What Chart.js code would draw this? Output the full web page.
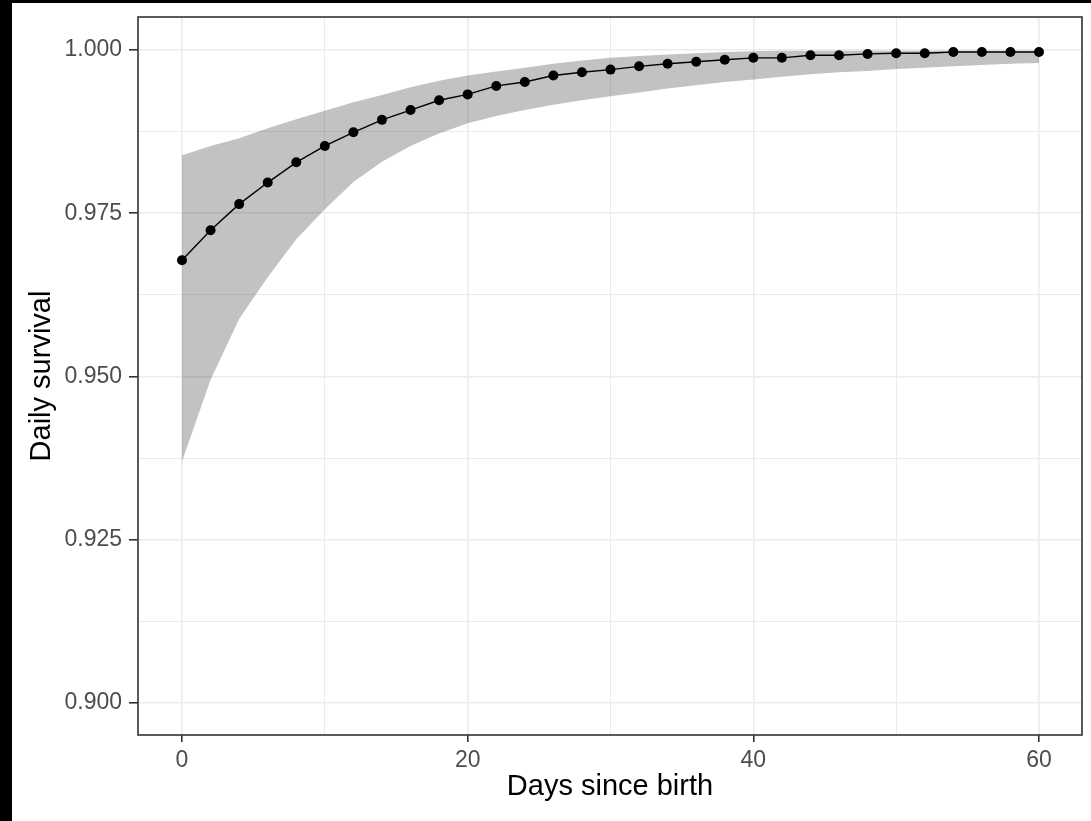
<!DOCTYPE html>
<html><head><meta charset="utf-8">
<script src="https://cdn.jsdelivr.net/npm/chart.js@4"></script>
<style>
html,body{margin:0;padding:0;background:#000;width:1091px;height:821px;overflow:hidden;}
#wrap{position:absolute;left:12px;top:3px;width:1079px;height:818px;background:#fff;}
canvas{display:block;}
</style></head><body>
<div id="wrap"><canvas id="c" width="1079" height="818"></canvas></div>
<script>
const days = [0,2,4,6,8,10,12,14,16,18,20,22,24,26,28,30,32,34,36,38,40,42,44,46,48,50,52,54,56,58,60];
const survival = [0.9678,0.9724,0.9764,0.9797,0.9828,0.9853,0.9874,0.9893,0.9908,0.9923,0.9932,0.9945,0.9951,0.9961,0.9966,0.9970,0.9975,0.9979,0.9982,0.9985,0.9988,0.9988,0.9992,0.9992,0.9994,0.9995,0.9995,0.9997,0.9997,0.9997,0.9997];
const lowerCI = [0.9370,0.9495,0.9588,0.9652,0.9710,0.9756,0.9798,0.9829,0.9853,0.9872,0.9888,0.9899,0.9908,0.9916,0.9923,0.9929,0.9935,0.9941,0.9946,0.9951,0.9955,0.9959,0.9963,0.9966,0.9968,0.9971,0.9973,0.9975,0.9977,0.9979,0.9980];
const upperCI = [0.9839,0.9853,0.9865,0.9880,0.9894,0.9907,0.9920,0.9931,0.9943,0.9953,0.9961,0.9967,0.9973,0.9979,0.9984,0.9988,0.9991,0.9993,0.9995,0.9997,0.9998,0.9999,0.9999,0.9999,0.9999,0.9999,0.9999,0.9999,0.9999,0.9999,0.9999];
const xTickValues = [0,10,20,30,40,50,60];
const xTickLabels = ['0','','20','','40','','60'];
const yTickValues = [0.9,0.9125,0.925,0.9375,0.95,0.9625,0.975,0.9875,1.0];
const yTickLabels = ['0.900','','0.925','','0.950','','0.975','','1.000'];
const xTitle = 'Days since birth';
const yTitle = 'Daily survival';

const pts = arr => days.map((d,i)=>({x:d,y:arr[i]}));

const borderPlugin = {
  id:'panelBorder',
  afterDraw(chart){
    const {ctx, chartArea:a} = chart;
    ctx.save();
    ctx.strokeStyle = '#333333';
    ctx.lineWidth = 1.6;
    ctx.strokeRect(a.left, a.top, a.right-a.left, a.bottom-a.top);
    ctx.restore();
  }
};

new Chart(document.getElementById('c'), {
  type:'line',
  data:{datasets:[
    {label:'survival', data:pts(survival), borderColor:'#000', borderWidth:1.4, pointRadius:5, pointBackgroundColor:'#000', pointBorderColor:'#000', pointBorderWidth:0, fill:false, order:0, tension:0},
    {label:'lower', data:pts(lowerCI), borderWidth:0, pointRadius:0, fill:false, order:2, borderColor:'rgba(0,0,0,0)'},
    {label:'upper', data:pts(upperCI), borderWidth:0, pointRadius:0, fill:'-1', backgroundColor:'rgba(0,0,0,0.24)', order:1, borderColor:'rgba(0,0,0,0)'}
  ]},
  options:{
    responsive:false, animation:false, devicePixelRatio:1,
    layout:{padding:{left:0,right:9,top:14,bottom:0}},
    plugins:{legend:{display:false}, tooltip:{enabled:false}},
    scales:{
      x:{type:'linear', min:-3.0805, max:63.0105,
        afterBuildTicks:s=>{s.ticks = xTickValues.map(v=>({value:v}));},
        afterFit:s=>{s.height = 86; s.paddingLeft = 0; s.paddingRight = 0;},
        ticks:{autoSkip:false, maxRotation:0, padding:5, color:'#4D4D4D', font:{family:'Liberation Sans', size:23},
          callback:(v,i)=>xTickLabels[i]},
        grid:{color:'#EBEBEB', lineWidth:c=> (xTickLabels[c.index]==='') ? 1 : 1.6,
          tickLength:7, tickWidth:1.6, tickColor:c=> (xTickLabels[c.index]==='') ? 'rgba(0,0,0,0)' : '#333333'},
        border:{display:false},
        title:{display:true, text:xTitle, color:'#000', font:{family:'Liberation Sans', size:29}, padding:{top:0,bottom:17}}
      },
      y:{type:'linear', min:0.8951, max:1.005054,
        afterBuildTicks:s=>{s.ticks = yTickValues.map(v=>({value:v}));},
        afterFit:s=>{s.width = 126; s.paddingTop = 0; s.paddingBottom = 0;},
        ticks:{autoSkip:false, padding:7, color:'#4D4D4D', font:{family:'Liberation Sans', size:23},
          callback:(v,i)=>yTickLabels[i]},
        grid:{color:'#EBEBEB', lineWidth:c=> (yTickLabels[c.index]==='') ? 1 : 1.6,
          tickLength:9, tickWidth:1.6, tickColor:c=> (yTickLabels[c.index]==='') ? 'rgba(0,0,0,0)' : '#333333'},
        border:{display:false},
        title:{display:true, text:yTitle, color:'#000', font:{family:'Liberation Sans', size:29}, padding:{top:13,bottom:0}}
      }
    }
  },
  plugins:[borderPlugin]
});
</script>
</body></html>
